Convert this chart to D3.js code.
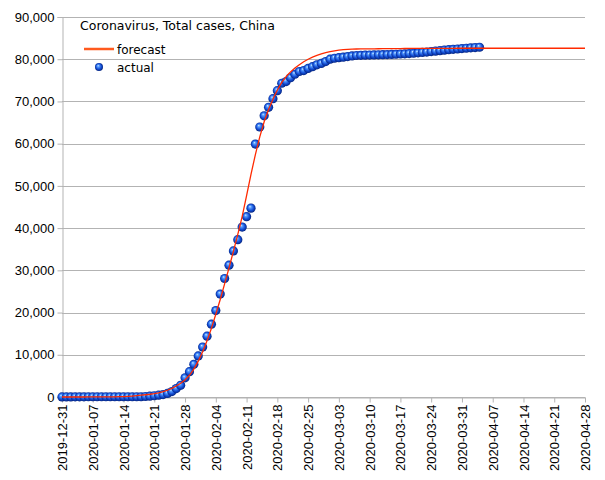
<!DOCTYPE html>
<html>
<head>
<meta charset="utf-8">
<script src="https://cdn.jsdelivr.net/npm/d3@7"></script>
<style>
  html, body { margin: 0; padding: 0; background: #ffffff; }
  svg { display: block; }
</style>
</head>
<body>
<svg id="chart" width="605" height="480"></svg>
<script>
// ---------------- DATA ----------------
const chartTitle = "Coronavirus, Total cases, China";
const seriesNames = ["forecast", "actual"];
const startDate = "2019-12-31";
const endDate = "2020-04-28";
const yTickValues = [0, 10000, 20000, 30000, 40000, 50000, 60000, 70000, 80000, 90000];
const xTickLabels = ["2019-12-31","2020-01-07","2020-01-14","2020-01-21","2020-01-28","2020-02-04",
  "2020-02-11","2020-02-18","2020-02-25","2020-03-03","2020-03-10","2020-03-17","2020-03-24",
  "2020-03-31","2020-04-07","2020-04-14","2020-04-21","2020-04-28"];

// actual cumulative cases, one per day from startDate
const actualValues = [
  27, 27, 27, 44, 44, 44, 59, 59, 59, 59,
  59, 59, 59, 59, 59, 59, 59, 62, 62, 121,
  198, 291, 441, 573, 835, 1295, 1985, 2759, 4535, 5996,
  7736, 9720, 11821, 14412, 17240, 20476, 24369, 28068, 31216, 34606,
  37263, 40241, 42713, 44733, 59894, 63946, 66592, 68610, 70663, 72556,
  74315, 74716, 75610, 76438, 77091, 77310, 77823, 78234, 78672, 79004,
  79441, 80019, 80226, 80356, 80480, 80624, 80772, 80876, 80925, 80970,
  80994, 81028, 81053, 81083, 81104, 81144, 81180, 81231, 81274, 81338,
  81417, 81508, 81604, 81693, 81821, 81918, 82035, 82150, 82264, 82349,
  82420, 82518, 82604, 82689, 82770, 82839
];

// forecast cumulative cases, one per day from startDate
const forecastValues = [
  2, 3, 3, 4, 5, 6, 8, 10, 13, 17,
  22, 30, 42, 75, 110, 160, 230, 320, 420, 530,
  650, 800, 990, 1250, 1600, 2050, 2600, 3250, 4050, 5150,
  6600, 8500, 10700, 13300, 16300, 19600, 23100, 26800, 30600, 34500,
  38500, 42800, 47700, 52700, 57400, 61600, 65200, 68100, 70500, 72700,
  74500, 75900, 77000, 77900, 78700, 79400, 80000, 80500, 80900, 81250,
  81550, 81800, 82000, 82150, 82250, 82330, 82390, 82420, 82440, 82450,
  82460, 82470, 82480, 82490, 82500, 82510, 82520, 82530, 82540, 82550,
  82550, 82560, 82560, 82570, 82570, 82580, 82580, 82590, 82590, 82590,
  82600, 82600, 82600, 82600, 82600, 82600, 82600, 82600, 82600, 82600,
  82600, 82600, 82600, 82600, 82600, 82600, 82600, 82600, 82600, 82600,
  82600, 82600, 82600, 82600, 82600, 82600, 82600, 82600, 82600, 82600
];

// ---------------- CHART ----------------
const parse = d3.utcParse("%Y-%m-%d");
const fmtDate = d3.utcFormat("%Y-%m-%d");
const t0 = parse(startDate);
const dayOf = i => d3.utcDay.offset(t0, i);

const margin = { left: 62, right: 20, top: 17, bottom: 83 };
const W = 605, H = 480;
const svg = d3.select("#chart");

const x = d3.scaleUtc().domain([t0, parse(endDate)]).range([margin.left, W - margin.right]);
const y = d3.scaleLinear().domain([0, 90000]).range([H - margin.bottom, margin.top]);

const gridColor = "#b3b3b3";
const axisColor = "#b3b3b3";

// gridlines
svg.append("g").selectAll("line").data(yTickValues).join("line")
  .attr("x1", margin.left).attr("x2", W - margin.right)
  .attr("y1", d => Math.round(y(d)) + 0.5).attr("y2", d => Math.round(y(d)) + 0.5)
  .attr("stroke", gridColor).attr("stroke-width", 1);

// y axis
const yAxis = d3.axisLeft(y).tickValues(yTickValues).tickSize(5).tickPadding(3)
  .tickFormat(d3.format(",d"));
const gy = svg.append("g").attr("transform", `translate(${margin.left + 0.5},0)`).call(yAxis);
gy.select(".domain").attr("stroke", axisColor);
gy.selectAll(".tick line").attr("stroke", axisColor);
gy.selectAll(".tick text").attr("font-family", "'Liberation Sans', Arial, sans-serif")
  .attr("font-size", 13).attr("fill", "#000");

// x axis
const xTicks = xTickLabels.map(s => parse(s));
const xAxis = d3.axisBottom(x).tickValues(xTicks).tickSize(5).tickSizeOuter(0).tickFormat(fmtDate);
const gx = svg.append("g").attr("transform", `translate(0,${Math.round(y(0)) + 0.5})`).call(xAxis);
gx.select(".domain").attr("stroke", axisColor);
gx.selectAll(".tick line").attr("stroke", axisColor);
gx.selectAll(".tick text")
  .attr("font-family", "'Liberation Sans', Arial, sans-serif")
  .attr("font-size", 13).attr("fill", "#000")
  .attr("transform", "rotate(-90)")
  .attr("text-anchor", "end")
  .attr("x", -7).attr("y", 0).attr("dy", "0.35em");

// gradient for sphere markers
const defs = svg.append("defs");
const grad = defs.append("radialGradient").attr("id", "ball")
  .attr("cx", "0.5").attr("cy", "0.5").attr("r", "0.55")
  .attr("fx", "0.38").attr("fy", "0.32");
grad.append("stop").attr("offset", "0%").attr("stop-color", "#d8ecff");
grad.append("stop").attr("offset", "22%").attr("stop-color", "#5aa0ff");
grad.append("stop").attr("offset", "60%").attr("stop-color", "#1550d8");
grad.append("stop").attr("offset", "100%").attr("stop-color", "#001a6e");

const r = 4.6;

// actual points
const actualData = actualValues.map((v, i) => ({ date: dayOf(i), value: v }));
svg.append("g").selectAll("circle").data(actualData).join("circle")
  .attr("cx", d => x(d.date)).attr("cy", d => y(d.value)).attr("r", r)
  .attr("fill", "url(#ball)");

// forecast line
const forecastData = forecastValues.map((v, i) => ({ date: dayOf(i), value: v }));
svg.append("path").datum(forecastData)
  .attr("fill", "none").attr("stroke", "#ff2a00").attr("stroke-width", 1.3)
  .attr("stroke-linejoin", "round")
  .attr("d", d3.line().x(d => x(d.date)).y(d => y(d.value)));

// legend
const lg = svg.append("g").attr("font-family", "'DejaVu Sans', sans-serif").attr("font-size", 12).attr("fill", "#000");
lg.append("text").attr("x", 80).attr("y", 30).attr("font-size", 12.5).text(chartTitle);
lg.append("line").attr("x1", 84).attr("x2", 114).attr("y1", 49).attr("y2", 49)
  .attr("stroke", "#ff5a1e").attr("stroke-width", 2.5);
lg.append("text").attr("x", 117).attr("y", 53.5).text(seriesNames[0]);
lg.append("circle").attr("cx", 99).attr("cy", 67).attr("r", 4).attr("fill", "url(#ball)");
lg.append("text").attr("x", 117).attr("y", 71.5).text(seriesNames[1]);
</script>
</body>
</html>
